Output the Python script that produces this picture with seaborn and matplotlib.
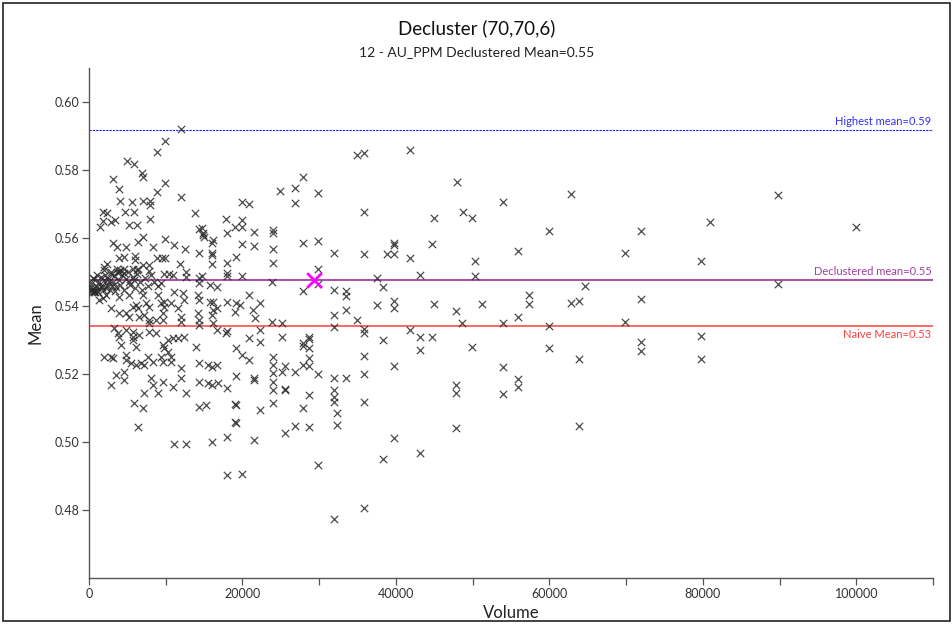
import numpy as np
import pandas as pd
import matplotlib
matplotlib.use("Agg")
import matplotlib.pyplot as plt
import matplotlib.transforms as mtransforms
from matplotlib.patches import Rectangle
import seaborn as sns

# Cell-declustering sweep: window volume vs. declustered mean
volume_right = [
    27900, 34900, 35800, 41900, 29900, 47900, 35800, 53900, 62800, 44900,
    48800, 49900, 59900, 27900, 29900, 39800, 39800, 44700, 31900, 35800,
    38900, 39800, 41900, 55900, 69800, 50300, 29900, 43100, 37600, 50300,
    38300, 29900, 27900, 31900, 33500, 33500, 64700, 57400, 57400, 62800,
    63800, 37600, 39800, 39800, 44900, 51200, 33500, 31900, 47800, 34900,
    55900, 31900, 35800, 35800, 41900, 48600, 53900, 59900, 69800, 28700,
    28700, 27900, 28700, 43100, 44700, 38300, 43100, 49900, 59900, 35800,
    63800, 28700, 27900, 28700, 39800, 53900, 29900, 31900, 33500, 35800,
    55900, 55900, 47800, 47800, 28700, 31900, 31900, 31900, 53900, 35800,
    27900, 32300, 28700, 32300, 47800, 63800, 39800, 43100, 38300, 29900,
    35800, 31900,
    89800, 80900, 71900, 99900, 79800, 89800, 71900, 71900, 71900, 79800,
    79800,
]
mean_right = [
    0.5780, 0.5844, 0.5850, 0.5859, 0.5732, 0.5765, 0.5676, 0.5706, 0.5729, 0.5659,
    0.5676, 0.5659, 0.5620, 0.5585, 0.5591, 0.5585, 0.5580, 0.5582, 0.5556, 0.5553,
    0.5553, 0.5553, 0.5541, 0.5562, 0.5556, 0.5532, 0.5509, 0.5491, 0.5482, 0.5488,
    0.5456, 0.5465, 0.5444, 0.5447, 0.5444, 0.5429, 0.5459, 0.5432, 0.5406, 0.5409,
    0.5415, 0.5403, 0.5415, 0.5394, 0.5406, 0.5406, 0.5388, 0.5374, 0.5385, 0.5359,
    0.5368, 0.5338, 0.5332, 0.5320, 0.5329, 0.5350, 0.5350, 0.5341, 0.5353, 0.5309,
    0.5303, 0.5282, 0.5276, 0.5309, 0.5309, 0.5300, 0.5271, 0.5279, 0.5276, 0.5253,
    0.5244, 0.5247, 0.5226, 0.5224, 0.5224, 0.5221, 0.5200, 0.5188, 0.5188, 0.5200,
    0.5185, 0.5162, 0.5168, 0.5144, 0.5138, 0.5153, 0.5132, 0.5118, 0.5141, 0.5118,
    0.5100, 0.5085, 0.5044, 0.5050, 0.5041, 0.5047, 0.5012, 0.4968, 0.4950, 0.4932,
    0.4806, 0.4774,
    0.5726, 0.5647, 0.5620, 0.5632, 0.5532, 0.5465, 0.5421, 0.5294, 0.5268, 0.5312,
    0.5244,
]

volume_mid = [
    24900, 26800, 26800, 19900, 20800, 17800, 19900, 19000, 19900, 18000,
    14700, 14900, 16200, 16000, 21500, 24000, 24000, 19900, 21500, 16000,
    16000, 19100, 18000, 24000, 24000, 16000, 14700, 18000, 18000, 19900,
    23800, 15800, 16700, 20800, 22300, 15800, 16200, 18000, 19100, 19700,
    19000, 21400, 21600, 16200, 16700, 16000, 16200, 16700, 18000, 17800,
    23800, 25100, 25100, 22300, 22300, 20800, 19100, 19900, 20800, 16000,
    16700, 19100, 21500, 21500, 24000, 24000, 24000, 24000, 24000, 24000,
    25500, 25100, 25500, 26900, 16000, 16800, 18000, 19100, 22300, 19000,
    25500, 19100, 16000, 18000, 21500, 19000, 18000, 19900, 26900, 25500,
    27900,
]
mean_mid = [
    0.5738, 0.5747, 0.5703, 0.5706, 0.5700, 0.5656, 0.5653, 0.5632, 0.5632, 0.5615,
    0.5629, 0.5609, 0.5594, 0.5585, 0.5618, 0.5624, 0.5615, 0.5582, 0.5576, 0.5556,
    0.5550, 0.5544, 0.5526, 0.5568, 0.5526, 0.5524, 0.5488, 0.5497, 0.5488, 0.5488,
    0.5470, 0.5462, 0.5456, 0.5432, 0.5409, 0.5412, 0.5412, 0.5412, 0.5409, 0.5403,
    0.5382, 0.5388, 0.5365, 0.5388, 0.5394, 0.5374, 0.5350, 0.5329, 0.5326, 0.5320,
    0.5353, 0.5350, 0.5309, 0.5329, 0.5294, 0.5306, 0.5276, 0.5256, 0.5241, 0.5221,
    0.5226, 0.5194, 0.5188, 0.5182, 0.5250, 0.5226, 0.5203, 0.5176, 0.5153, 0.5115,
    0.5224, 0.5206, 0.5153, 0.5206, 0.5168, 0.5174, 0.5159, 0.5109, 0.5094, 0.5112,
    0.5156, 0.5056, 0.5000, 0.5015, 0.5006, 0.5059, 0.4903, 0.4906, 0.5047, 0.5026,
    0.5291,
]

volume_left = [
    12000, 9900, 8900, 4900, 5900, 6900, 7000, 3100, 3900, 9900,
    8900, 12000, 4000, 5600, 7000, 7900, 7900, 1800, 2300, 4700,
    5900, 13800, 3400, 2900, 1800, 1400, 7900, 5200, 6200, 14300,
    14800, 15000, 9900, 7000, 6400, 3100, 3600, 4800, 8300, 11100,
    12500, 14300, 3900, 4600, 6000, 6000, 8900, 9500, 9900, 2300,
    7000, 7800, 11900, 10400, 12600, 10900, 14300,
    2200, 1300, 1800, 2900, 3900, 5200, 7000, 7400, 7800, 6100,
    6400, 9000, 9400, 10700, 11100, 12200, 12400, 14200, 14300, 3900,
    4800, 5200, 6500, 5700, 7200, 7800, 7800, 8700, 9600, 9800,
    9800, 9600, 11600, 12000, 12000, 14200, 14300, 14300, 3300, 3800,
    3900, 4800, 5700, 5700, 6500, 7800, 8700, 10300, 10900, 11600,
    12400, 5700, 6100, 4200, 9600, 9800, 10300, 13900, 2000, 2900,
    3100, 4800, 4800, 5500, 6100, 6800, 7200, 7700, 8300, 9400,
    9600, 10700, 10700, 12000, 12000, 14300, 15500, 3500, 4600, 4600,
    2900, 8100, 8300, 9600, 10900, 7200, 9000, 12600, 14300, 15500,
    5900, 7000, 14300, 15200, 6400, 11100, 12600,
]
mean_left = [
    0.5920, 0.5885, 0.5853, 0.5826, 0.5818, 0.5791, 0.5780, 0.5774, 0.5744, 0.5762,
    0.5735, 0.5721, 0.5709, 0.5706, 0.5709, 0.5709, 0.5697, 0.5676, 0.5674, 0.5676,
    0.5676, 0.5674, 0.5653, 0.5647, 0.5650, 0.5632, 0.5656, 0.5638, 0.5638, 0.5626,
    0.5615, 0.5603, 0.5597, 0.5603, 0.5588, 0.5585, 0.5574, 0.5574, 0.5574, 0.5580,
    0.5568, 0.5556, 0.5541, 0.5544, 0.5547, 0.5535, 0.5541, 0.5541, 0.5541, 0.5524,
    0.5521, 0.5521, 0.5524, 0.5494, 0.5500, 0.5491, 0.5482,
    0.5432, 0.5418, 0.5424, 0.5394, 0.5426, 0.5432, 0.5432, 0.5409, 0.5397, 0.5403,
    0.5394, 0.5432, 0.5409, 0.5409, 0.5441, 0.5438, 0.5418, 0.5432, 0.5418, 0.5379,
    0.5379, 0.5368, 0.5368, 0.5397, 0.5374, 0.5359, 0.5350, 0.5359, 0.5359, 0.5412,
    0.5397, 0.5379, 0.5394, 0.5368, 0.5353, 0.5379, 0.5359, 0.5344, 0.5335, 0.5320,
    0.5309, 0.5329, 0.5324, 0.5309, 0.5315, 0.5324, 0.5320, 0.5300, 0.5306, 0.5306,
    0.5309, 0.5300, 0.5279, 0.5285, 0.5285, 0.5276, 0.5265, 0.5279, 0.5250, 0.5250,
    0.5247, 0.5256, 0.5241, 0.5232, 0.5226, 0.5232, 0.5226, 0.5250, 0.5235, 0.5250,
    0.5235, 0.5250, 0.5235, 0.5218, 0.5188, 0.5232, 0.5226, 0.5197, 0.5206, 0.5182,
    0.5168, 0.5188, 0.5168, 0.5176, 0.5162, 0.5144, 0.5144, 0.5144, 0.5176, 0.5174,
    0.5115, 0.5100, 0.5103, 0.5109, 0.5044, 0.4994, 0.4994,
]

# Tight cluster of small-window results hugging the declustered mean
volume_cluster = [
    300, 500, 700, 900, 1100, 1300, 1500, 1700, 1900, 2100,
    2300, 2500, 2700, 2900, 3100, 3300, 3500, 3700, 3900, 4100,
    4300, 4500, 4800, 5100, 5400, 5700, 6000, 6300, 6600, 6900,
    7300, 7700, 8100, 8500, 9000, 200, 400, 600, 800, 1000,
    250, 700, 1200, 1500, 1800, 2200, 2600, 3000, 3400, 4000,
    4600, 5200, 5800, 6200, 2000, 1000, 500, 3600, 2900, 3900,
    4600, 5700, 6400, 1900, 7800, 9800, 12600, 14300, 9400,
]
mean_cluster = [
    0.5465, 0.5450, 0.5478, 0.5460, 0.5445, 0.5470, 0.5485, 0.5455, 0.5475, 0.5490,
    0.5462, 0.5480, 0.5448, 0.5495, 0.5470, 0.5487, 0.5455, 0.5500, 0.5475, 0.5463,
    0.5490, 0.5448, 0.5478, 0.5500, 0.5462, 0.5485, 0.5452, 0.5495, 0.5470, 0.5447,
    0.5482, 0.5460, 0.5490, 0.5470, 0.5458, 0.5455, 0.5440, 0.5445, 0.5440, 0.5455,
    0.5447, 0.5440, 0.5440, 0.5460, 0.5448, 0.5452, 0.5470, 0.5458, 0.5445, 0.5505,
    0.5510, 0.5470, 0.5475, 0.5505, 0.5505, 0.5490, 0.5482, 0.5510, 0.5500, 0.5500,
    0.5497, 0.5509, 0.5509, 0.5515, 0.5503, 0.5494, 0.5485, 0.5468, 0.5468,
]

# Chosen declustering window and summary statistics
best_volume = 29300
best_mean = 0.5476
highest_mean = 0.5918
declustered_mean = 0.5476
naive_mean = 0.5341

df = pd.DataFrame({
    "Volume": volume_right + volume_mid + volume_left + volume_cluster,
    "Mean": mean_right + mean_mid + mean_left + mean_cluster,
})

sns.set_theme(style="white")
plt.rcParams["font.family"] = ["Lato", "DejaVu Sans"]

fig = plt.figure(figsize=(9.53, 6.25), dpi=100)
ax = fig.add_axes([89 / 953, 1 - 578 / 625, (933 - 89) / 953, (578 - 68) / 625])

sns.scatterplot(data=df, x="Volume", y="Mean", marker="x", s=28,
                color="#2a2a2a", linewidth=0.9, alpha=0.85, ax=ax, zorder=3)
sns.scatterplot(x=[best_volume], y=[best_mean], marker="x", s=110,
                color="#ff00ff", linewidth=2.0, ax=ax, zorder=5)

ax.axhline(highest_mean, color="#1a1aff", lw=0.8, ls=(0, (2, 1)), zorder=2)
ax.axhline(declustered_mean, color="#a030a0", lw=1.2, zorder=2)
ax.axhline(naive_mean, color="#ff5a5a", lw=1.3, zorder=2)

trans = mtransforms.blended_transform_factory(ax.transAxes, ax.transData)
ax.text(0.998, highest_mean + 0.0008, "Highest mean=0.59", color="#3030ff",
        fontsize=8, ha="right", va="bottom", transform=trans)
ax.text(0.998, declustered_mean + 0.0008, "Declustered mean=0.55", color="#a040a0",
        fontsize=8, ha="right", va="bottom", transform=trans)
ax.text(0.998, naive_mean - 0.0008, "Naive Mean=0.53", color="#ff4040",
        fontsize=8, ha="right", va="top", transform=trans)

ax.set_xlim(0, 110000)
ax.set_ylim(0.46, 0.61)
xt = np.arange(0, 110001, 10000)
ax.set_xticks(xt)
ax.set_xticklabels([str(int(v)) if int(v) % 20000 == 0 and v <= 100000 else "" for v in xt])
yt = np.arange(0.48, 0.6001, 0.02)
ax.set_yticks(yt)
ax.set_yticklabels([f"{v:.2f}" for v in yt])

for side in ("top", "right"):
    ax.spines[side].set_visible(False)
for side in ("left", "bottom"):
    ax.spines[side].set_color("#555555")
    ax.spines[side].set_linewidth(1.0)
ax.tick_params(axis="both", which="major", direction="out", length=5, width=0.9,
               color="#555555", labelsize=9, labelcolor="#333333", pad=2,
               left=True, bottom=True)

ax.set_xlabel("Volume", fontsize=12, color="#222222", labelpad=4)
ax.set_ylabel("Mean", fontsize=12, color="#222222", labelpad=8)

fig.text(0.5, 1 - 28 / 625, "Decluster (70,70,6)", ha="center", va="center",
         fontsize=13.5, color="#111111")
fig.text(0.5, 1 - 52 / 625, "12 - AU_PPM Declustered Mean=0.55", ha="center",
         va="center", fontsize=10, color="#222222")

fig.patches.append(Rectangle((0.003, 0.006), 0.994, 0.99, transform=fig.transFigure,
                             fill=False, edgecolor="#222222", linewidth=1.2))

fig.savefig("out.png", dpi=100, facecolor="white")
